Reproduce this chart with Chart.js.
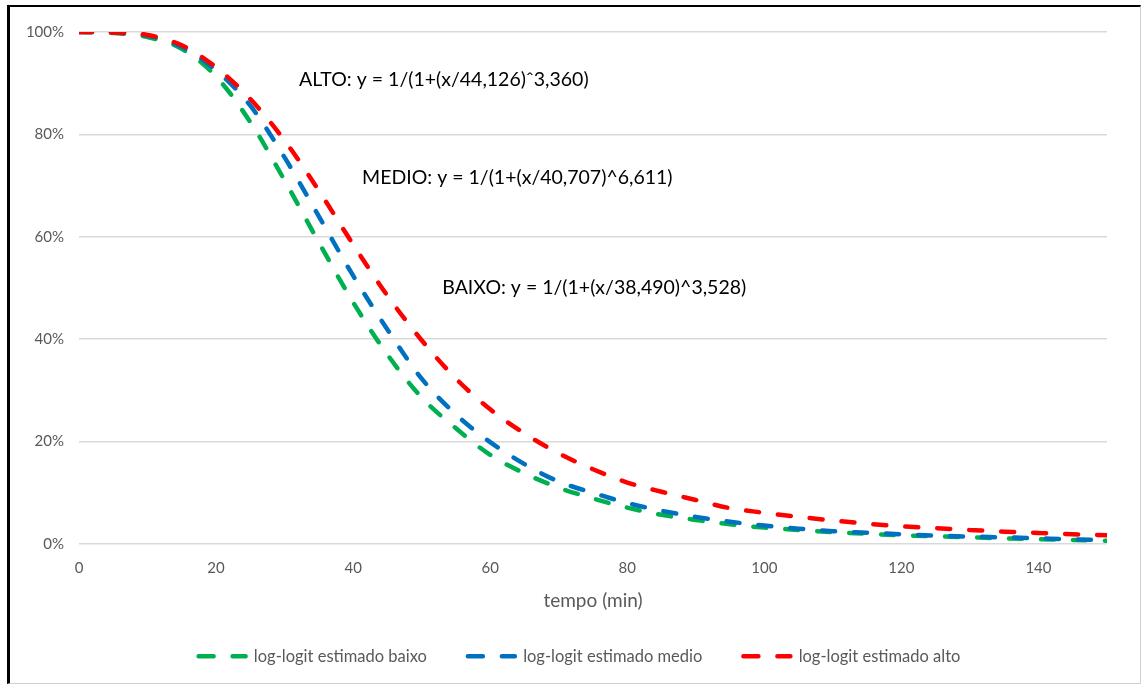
<!DOCTYPE html>
<html>
<head>
<meta charset="utf-8">
<script src="https://cdn.jsdelivr.net/npm/chart.js@4.4.1/dist/chart.umd.min.js"></script>
<style>
  html, body { margin: 0; padding: 0; background: #fff; }
  #wrap { position: relative; width: 1143px; height: 686px; }
  #wrap canvas { position: absolute; left: 0; top: 0; }
  #frame {
    position: absolute; left: 7px; top: 5px; width: 1130px; height: 676px;
    border-left: 3px solid #000; border-top: 2px solid #000;
    border-right: 1px solid #d0d0d0; border-bottom: 1px solid #d0d0d0;
    pointer-events: none;
  }
</style>
</head>
<body>
<div id="wrap">
  <canvas id="curves" width="1143" height="686"></canvas>
  <div id="frame"></div>
</div>
<script>
// tempo (min)
var minutes = [0, 5, 10, 15, 20, 25, 30, 35, 40, 45, 50, 55, 60, 65, 70, 75,
               80, 85, 90, 95, 100, 105, 110, 115, 120, 125, 130, 135, 140, 145, 150];

// % remaining
var baixo = [100, 99.8, 99.0, 96.7, 91.3, 82.4, 71.0, 58.9, 47.2, 37.0, 28.6, 22.6, 17.4, 13.8, 11.0, 8.9,
             7.1, 5.7, 4.7, 3.85, 3.2, 2.75, 2.3, 2.0, 1.7, 1.5, 1.3, 1.1, 0.95, 0.8, 0.65];
var medio = [100, 99.9, 99.3, 97.1, 92.5, 85.6, 75.5, 64.0, 52.4, 41.9, 32.3, 25.3, 19.9, 15.6, 12.2, 10.0,
             8.0, 6.5, 5.3, 4.35, 3.6, 3.0, 2.5, 2.2, 1.9, 1.65, 1.45, 1.3, 1.1, 0.9, 0.8];
var alto  = [100, 99.9, 99.4, 97.4, 93.1, 86.9, 78.8, 69.0, 58.5, 48.5, 39.8, 32.3, 26.3, 21.6, 17.7, 14.6,
             12.0, 10.2, 8.6, 7.0, 6.1, 5.3, 4.6, 3.95, 3.45, 3.1, 2.75, 2.4, 2.15, 1.9, 1.7];

var seriesNames = ["log-logit estimado baixo", "log-logit estimado medio", "log-logit estimado alto"];
var yTicks = [0, 20, 40, 60, 80, 100];
var xTicks = [0, 20, 40, 60, 80, 100, 120, 140];

var equations = [
    "ALTO: y = 1/(1+(x/44,126)\u02C63,360)",
    "MEDIO: y = 1/(1+(x/40,707)^6,611)",
    "BAIXO: y = 1/(1+(x/38,490)^3,528)"
];

function points(values) {
    return minutes.map(function (m, i) { return { x: m, y: values[i] }; });
}

var FONT = "Lato, 'Liberation Sans', sans-serif";
var GREY = "#595959";

// text boxes placed in data coordinates (left edge, vertical middle)
var equationPlugin = {
    id: "equations",
    afterDatasetsDraw: function (chart) {
        var ctx = chart.ctx, xs = chart.scales.x, ys = chart.scales.y;
        var anchors = [[32.1, 90.6], [41.3, 71.6], [53.0, 50.1]];
        ctx.save();
        ctx.font = "19.5px " + FONT;
        ctx.fillStyle = "#000";
        ctx.textBaseline = "middle";
        ctx.textAlign = "left";
        equations.forEach(function (t, i) {
            ctx.fillText(t, xs.getPixelForValue(anchors[i][0]), ys.getPixelForValue(anchors[i][1]));
        });
        ctx.restore();
    }
};

// legend in the original sits a bit right of the canvas centre
var legendNudge = {
    id: "legendNudge",
    afterLayout: function (chart) {
        if (chart.legend) chart.legend.left += 52;
    }
};

function lineSet(label, values, colour, order) {
    return {
        label: label,
        data: points(values),
        borderColor: colour,
        backgroundColor: colour,
        borderWidth: 4.5,
        borderDash: [13, 19],
        borderCapStyle: "round",
        pointRadius: 0,
        pointHoverRadius: 0,
        fill: false,
        cubicInterpolationMode: "monotone",
        order: order
    };
}

var chartData = {
    datasets: [
        lineSet(seriesNames[0], baixo, "#00B050", 2),
        lineSet(seriesNames[1], medio, "#0070C0", 1),
        lineSet(seriesNames[2], alto, "#FF0000", 0)
    ]
};

var chartOptions = {
    responsive: false,
    animation: false,
    layout: { padding: { left: 0, right: 36, top: 32, bottom: 11.5 } },
    plugins: {
        tooltip: { enabled: false },
        legend: {
            position: "bottom",
            labels: {
                usePointStyle: true,
                pointStyle: "line",
                pointStyleWidth: 47,
                boxWidth: 47,
                boxHeight: 14,
                padding: 41,
                color: GREY,
                font: { family: FONT, size: 16.5 },
                sort: function (a, b) { return a.datasetIndex - b.datasetIndex; },
                // point style drops the dash, so put it back
                generateLabels: function (chart) {
                    var items = Chart.defaults.plugins.legend.labels.generateLabels(chart);
                    items.forEach(function (it) {
                        var ds = chart.data.datasets[it.datasetIndex];
                        it.strokeStyle = ds.borderColor;
                        it.lineWidth = 4.5;
                        it.lineDash = [15, 19];
                        it.lineCap = "round";
                    });
                    return items;
                }
            }
        }
    },
    scales: {
        x: {
            type: "linear",
            min: 0,
            max: 150,
            afterFit: function (scale) { scale.height = 63; },
            afterBuildTicks: function (scale) {
                scale.ticks = xTicks.map(function (v) { return { value: v }; });
            },
            grid: { display: false, drawTicks: false },
            border: { display: false },
            ticks: { color: GREY, font: { family: FONT, size: 15 }, padding: 15, maxRotation: 0 },
            title: {
                display: true,
                text: "tempo (min)",
                color: GREY,
                font: { family: FONT, size: 19 },
                padding: { top: 0, bottom: -5 }
            }
        },
        y: {
            min: 0,
            max: 100,
            afterFit: function (scale) { scale.width = 79; },
            afterBuildTicks: function (scale) {
                scale.ticks = yTicks.map(function (v) { return { value: v }; });
            },
            grid: { color: "#d9d9d9", lineWidth: 1.5, drawTicks: false },
            border: { display: false },
            ticks: {
                color: GREY,
                font: { family: FONT, size: 15 },
                padding: 15,
                callback: function (v) { return v + "%"; }
            }
        }
    }
};

var ctx = document.getElementById("curves");
var curvesChart = new Chart(ctx, {
    type: "line",
    data: chartData,
    options: chartOptions,
    plugins: [equationPlugin, legendNudge]
});
</script>
</body>
</html>
